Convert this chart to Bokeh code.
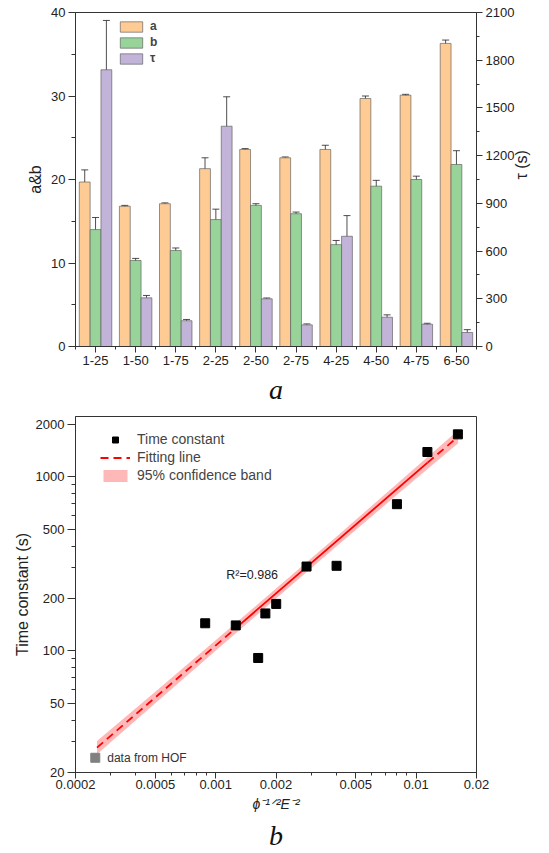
import math
import numpy as np
from bokeh.plotting import figure
from bokeh.models import (Range1d, LinearAxis, FixedTicker, Whisker, TeeHead,
                          ColumnDataSource, Legend, LegendItem, Label, Title)
from bokeh.layouts import column
from bokeh.embed import file_html
from bokeh.resources import INLINE

# ---------------- data: chart a ----------------
categories = ["1-25", "1-50", "1-75", "2-25", "2-50", "2-75", "4-25", "4-50", "4-75", "6-50"]
a_vals = [19.7, 16.8, 17.1, 21.3, 23.6, 22.6, 23.6, 29.7, 30.1, 36.3]
a_err = [1.45, 0.1, 0.1, 1.3, 0.1, 0.1, 0.5, 0.3, 0.1, 0.4]
b_vals = [14.0, 10.3, 11.5, 15.2, 16.9, 15.9, 12.2, 19.2, 20.0, 21.8]
b_err = [1.45, 0.25, 0.3, 1.25, 0.2, 0.2, 0.5, 0.7, 0.4, 1.65]
tau_vals = [1740, 306, 162, 1385, 300, 136, 693, 184, 140, 88]
tau_err = [310, 15, 8, 185, 5, 6, 130, 15, 6, 18]
left_ticks = [0, 10, 20, 30, 40]
left_minor = [5, 15, 25, 35]
right_ticks = [0, 300, 600, 900, 1200, 1500, 1800, 2100]
right_minor = [150, 450, 750, 1050, 1350, 1650, 1950]

# ---------------- data: chart b ----------------
x_pts = [0.000887, 0.00126, 0.00163, 0.00177, 0.002005, 0.00284, 0.00401, 0.00802, 0.01138, 0.01615]
tau_pts = [144, 140, 91, 164, 186, 305, 308, 696, 1388, 1753]
hof_x = [0.000251]
hof_y = [24.3]
fit_x = [0.000256, 0.00126, 0.0114, 0.0162]
fit_y = [27.8, 135, 1205, 1700]
band_x = [0.000256, 0.0005, 0.001, 0.002, 0.004, 0.008, 0.0162]
band_lo = [25.5, 50.0, 100, 200, 398, 785, 1560]
band_hi = [30.3, 58.3, 115, 228, 452, 910, 1850]
bx_ticks = [0.0002, 0.0005, 0.001, 0.002, 0.005, 0.01, 0.02]
bx_labels = ["0.0002", "0.0005", "0.001", "0.002", "0.005", "0.01", "0.02"]
by_ticks = [20, 50, 100, 200, 500, 1000, 2000]
by_labels = ["20", "50", "100", "200", "500", "1000", "2000"]

FONT = "Liberation Sans"
SERIF = "Liberation Serif"
AXC = "#333333"


def style_axis(ax, major=7, minor=4, size="13px"):
    ax.axis_line_color = AXC
    ax.major_tick_line_color = AXC
    ax.minor_tick_line_color = AXC
    ax.major_tick_out = major
    ax.major_tick_in = 0
    ax.minor_tick_out = minor
    ax.minor_tick_in = 0
    ax.major_label_text_font = FONT
    ax.major_label_text_font_size = size
    ax.major_label_text_color = "#222222"
    ax.major_label_standoff = 3
    ax.axis_label_text_font = FONT
    ax.axis_label_text_font_style = "normal"
    ax.axis_label_text_font_size = "16px"
    ax.axis_label_text_color = "#222222"
    ax.axis_label_standoff = 4


# ================= chart a =================
p1 = figure(width=549, height=408, output_backend="svg", toolbar_location=None,
            x_range=Range1d(0.5, 10.5), y_range=Range1d(0, 40),
            min_border_left=61, min_border_right=73, min_border_top=12, min_border_bottom=62)
p1.xgrid.visible = False
p1.ygrid.visible = False
p1.outline_line_color = AXC
p1.extra_y_ranges = {"tau": Range1d(0, 2100)}

idx = np.arange(1, len(categories) + 1)
W = 0.27
off = [-W, 0.0, W]
cols = ["#FDCB93", "#98D49A", "#C2B3D8"]
series = [(a_vals, a_err, None), (b_vals, b_err, None), (tau_vals, tau_err, "tau")]
renderers = []
for k, (vals, errs, rng) in enumerate(series):
    v = np.array(vals, dtype=float)
    e = np.array(errs, dtype=float)
    src = ColumnDataSource(dict(x=idx + off[k], top=v, upper=v + e, lower=v - e))
    kw = {"y_range_name": rng} if rng else {}
    r = p1.vbar(x="x", top="top", bottom=0, width=W, source=src, fill_color=cols[k],
                line_color="#5a5a5a", line_width=0.8, line_alpha=0.8, **kw)
    renderers.append(r)
    wh = Whisker(source=src, base="x", upper="upper", lower="lower",
                 line_color="#222222", line_width=0.8,
                 upper_head=TeeHead(size=7, line_color="#222222", line_width=0.8),
                 lower_head=TeeHead(size=7, line_color="#222222", line_width=0.8), **kw)
    p1.add_layout(wh)

ax = p1.xaxis[0]
ax.ticker = FixedTicker(ticks=list(idx), minor_ticks=list(np.arange(0.5, 11, 1.0)))
ax.major_label_overrides = {int(i): c for i, c in zip(idx, categories)}
style_axis(ax, major=6, minor=3)

ay = p1.yaxis[0]
ay.ticker = FixedTicker(ticks=left_ticks, minor_ticks=left_minor)
ay.axis_label = "a&b"
style_axis(ay)

ar = LinearAxis(y_range_name="tau", axis_label="τ (s)")
ar.ticker = FixedTicker(ticks=right_ticks, minor_ticks=right_minor)
style_axis(ar, major=6, minor=3)
try:
    ar.axis_label_orientation = math.pi / 2
except Exception:
    pass
p1.add_layout(ar, "right")

leg1 = Legend(items=[LegendItem(label="a", renderers=[renderers[0]]),
                     LegendItem(label="b", renderers=[renderers[1]]),
                     LegendItem(label="τ", renderers=[renderers[2]])],
              location=(42, 281), glyph_width=28, glyph_height=13, label_height=13,
              spacing=2, padding=0, margin=0, label_standoff=5,
              label_text_font=FONT, label_text_font_size="12px", label_text_font_style="bold",
              border_line_alpha=0, background_fill_alpha=0)
p1.add_layout(leg1)

p1.add_layout(Title(text="a", align="center", offset=6, standoff=8,
                    text_font=SERIF, text_font_style="italic", text_font_size="28px",
                    text_color="#111111"), "below")

# ================= chart b =================
p2 = figure(width=549, height=445, output_backend="svg", toolbar_location=None,
            x_axis_type="log", y_axis_type="log",
            x_range=Range1d(0.0002, 0.02), y_range=Range1d(20, 2220),
            min_border_left=75, min_border_right=30, min_border_top=8, min_border_bottom=80)
p2.xgrid.visible = False
p2.ygrid.visible = False
p2.outline_line_color = AXC

band = p2.varea(x=band_x, y1=band_lo, y2=band_hi, fill_color="#FF0000", fill_alpha=0.28)
fl1 = p2.line(fit_x[0:2], fit_y[0:2], line_color="#FF0000", line_width=1.8, line_dash="8 5")
p2.line(fit_x[1:3], fit_y[1:3], line_color="#FF0000", line_width=1.8)
p2.line(fit_x[2:4], fit_y[2:4], line_color="#FF0000", line_width=1.8, line_dash="8 5")
pts = p2.scatter(x_pts, tau_pts, marker="square", size=9, color="black")
p2.scatter(hof_x, hof_y, marker="square", size=9, color="#808080")

bx_minor = []
for dec in [0.0001, 0.001, 0.01]:
    for m in range(2, 10):
        v = m * dec
        if 0.0002 <= v <= 0.02:
            bx_minor.append(v)
bx_minor.append(0.02)
by_minor = []
for dec in [10, 100, 1000]:
    for m in range(2, 10):
        v = m * dec
        if 20 <= v <= 2200:
            by_minor.append(v)

bxa = p2.xaxis[0]
bxa.ticker = FixedTicker(ticks=bx_ticks, minor_ticks=bx_minor)
bxa.major_label_overrides = {t: s for t, s in zip(bx_ticks, bx_labels)}
style_axis(bxa, major=6, minor=3)
bxa.major_label_standoff = 1
bxa.axis_label = "ϕ⁻¹ᐟ²E⁻²"
bxa.axis_label_text_font_style = "italic"
bxa.axis_label_text_font_size = "14px"
bxa.axis_label_standoff = 4
bya = p2.yaxis[0]
bya.ticker = FixedTicker(ticks=by_ticks, minor_ticks=by_minor)
bya.major_label_overrides = {t: s for t, s in zip(by_ticks, by_labels)}
bya.axis_label = "Time constant (s)"
style_axis(bya, major=8, minor=4)
bya.axis_label_standoff = 2

leg2 = Legend(items=[LegendItem(label="Time constant", renderers=[pts]),
                     LegendItem(label="Fitting line", renderers=[fl1]),
                     LegendItem(label="95% confidence band", renderers=[band])],
              location=(25, 289), glyph_width=30, glyph_height=15, label_height=15,
              spacing=2, padding=0, margin=0, label_standoff=7,
              label_text_font=FONT, label_text_font_size="14px",
              border_line_alpha=0, background_fill_alpha=0)
p2.add_layout(leg2)

p2.add_layout(Label(x=0.00113, y=273, text="R²=0.986", text_font=FONT,
                    text_font_size="12.5px", text_baseline="middle", text_color="#222222"))
p2.add_layout(Label(x=0.000288, y=24.3, text="data from HOF", text_font=FONT,
                    text_font_size="12px", text_baseline="middle", text_color="#333333"))

p2.add_layout(Title(text="b", align="center", offset=-21, standoff=6,
                    text_font=SERIF, text_font_style="italic", text_font_size="28px",
                    text_color="#111111"), "below")

layout = column(p1, p2, spacing=0)
open("out.html", "w").write(file_html(layout, INLINE))
